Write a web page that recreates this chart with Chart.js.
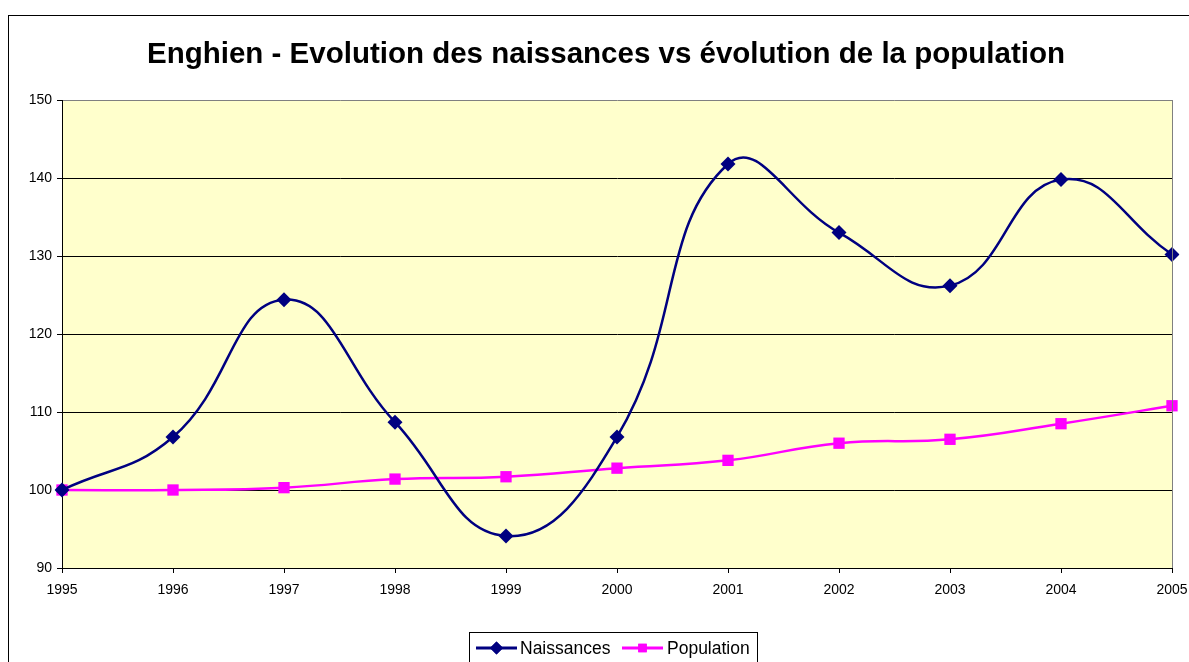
<!DOCTYPE html>
<html>
<head>
<meta charset="utf-8">
<script src="https://cdn.jsdelivr.net/npm/chart.js@4.4.1/dist/chart.umd.min.js"></script>
<style>
html,body{margin:0;padding:0;background:#fff;}
#wrap{position:relative;width:1189px;height:662px;}
</style>
</head>
<body>
<div id="wrap"><canvas id="c" width="1189" height="662"></canvas></div>
<script>
const years = ['1995','1996','1997','1998','1999','2000','2001','2002','2003','2004','2005'];
const naissances = [100, 106.8, 124.4, 108.7, 94.1, 106.8, 141.8, 133.0, 126.2, 139.8, 130.2];
const population = [100, 100, 100.3, 101.4, 101.7, 102.8, 103.8, 106.0, 106.5, 108.5, 110.8];
const titleText = 'Enghien - Evolution des naissances vs évolution de la population';
const FONT = '"Liberation Sans", Arial, sans-serif';

const decor = {
  id: 'decor',
  beforeDraw(chart) {
    const ctx = chart.ctx, a = chart.chartArea;
    ctx.save();
    ctx.fillStyle = '#fff';
    ctx.fillRect(0, 0, chart.width, chart.height);
    ctx.strokeStyle = '#000';
    ctx.lineWidth = 1;
    ctx.strokeRect(8.5, 15.5, 1300, 700);
    ctx.fillStyle = '#FFFFCC';
    ctx.fillRect(a.left, a.top, a.right - a.left, a.bottom - a.top);
    ctx.fillStyle = '#000';
    ctx.font = 'bold 29.5px ' + FONT;
    ctx.textAlign = 'center';
    ctx.textBaseline = 'middle';
    ctx.fillText(titleText, 606, 55);
    ctx.restore();
  },
  afterDatasetsDraw(chart) {
    const ctx = chart.ctx, a = chart.chartArea;
    ctx.save();
    ctx.strokeStyle = '#808080';
    ctx.lineWidth = 1;
    ctx.beginPath();
    ctx.moveTo(Math.round(a.right) + 0.5, a.top);
    ctx.lineTo(Math.round(a.right) + 0.5, a.bottom);
    ctx.stroke();
    ctx.restore();
  },
  afterDraw(chart) {
    const ctx = chart.ctx;
    ctx.save();
    ctx.fillStyle = '#fff';
    ctx.fillRect(469, 632, 288, 40);
    ctx.strokeStyle = '#000';
    ctx.lineWidth = 1;
    ctx.strokeRect(469.5, 632.5, 288, 40);
    const cy = 648;
    const items = [
      {x0: 476, x1: 517, color: '#000080', style: 'rectRot', r: 6.5, label: chart.data.datasets[0].label, tx: 520},
      {x0: 622, x1: 663, color: '#FF00FF', style: 'rect', r: 6, label: chart.data.datasets[1].label, tx: 667}
    ];
    items.forEach(it => {
      ctx.strokeStyle = it.color;
      ctx.lineWidth = 3;
      ctx.beginPath();
      ctx.moveTo(it.x0, cy);
      ctx.lineTo(it.x1, cy);
      ctx.stroke();
      ctx.fillStyle = it.color;
      Chart.helpers.drawPoint(ctx, {pointStyle: it.style, radius: it.r, borderWidth: 0}, (it.x0 + it.x1) / 2, cy);
      ctx.fill();
      ctx.fillStyle = '#000';
      ctx.font = '17.5px ' + FONT;
      ctx.textAlign = 'left';
      ctx.textBaseline = 'middle';
      ctx.fillText(it.label, it.tx, cy + 1);
    });
    ctx.restore();
  }
};

new Chart(document.getElementById('c'), {
  type: 'line',
  data: {
    labels: years,
    datasets: [
      {
        label: 'Naissances',
        data: naissances,
        borderColor: '#000080',
        backgroundColor: '#000080',
        borderWidth: 2.5,
        tension: 0.45,
        pointStyle: 'rectRot',
        pointRadius: 7.5,
        pointBorderWidth: 0,
        pointBackgroundColor: '#000080'
      },
      {
        label: 'Population',
        data: population,
        borderColor: '#FF00FF',
        backgroundColor: '#FF00FF',
        borderWidth: 2.5,
        tension: 0.45,
        pointStyle: 'rect',
        pointRadius: 8,
        pointBorderWidth: 0,
        pointBackgroundColor: '#FF00FF'
      }
    ]
  },
  options: {
    responsive: false,
    animation: false,
    events: [],
    layout: {padding: {left: 0, top: 100, right: 17, bottom: 64}},
    plugins: {legend: {display: false}, title: {display: false}, tooltip: {enabled: false}},
    scales: {
      x: {
        type: 'category',
        offset: false,
        grid: {display: true, drawOnChartArea: false, drawTicks: true, tickLength: 5, color: '#000'},
        border: {display: true, color: '#000', width: 1},
        ticks: {color: '#000', font: {family: FONT, size: 14}, maxRotation: 0, autoSkip: false, padding: 9},
        afterFit(s) { s.height = 30; s.paddingLeft = 0; s.paddingRight = 0; }
      },
      y: {
        min: 90, max: 150,
        ticks: {stepSize: 10, color: '#000', font: {family: FONT, size: 14}, padding: 5},
        grid: {
          color: ctx => (ctx.tick && ctx.tick.value === 150) ? '#808080' : '#000',
          tickColor: '#000',
          drawTicks: true, tickLength: 5
        },
        border: {display: true, color: '#000', width: 1},
        afterFit(s) { s.width = 62; s.paddingTop = 0; s.paddingBottom = 0; }
      }
    }
  },
  plugins: [decor]
});
</script>
</body>
</html>
